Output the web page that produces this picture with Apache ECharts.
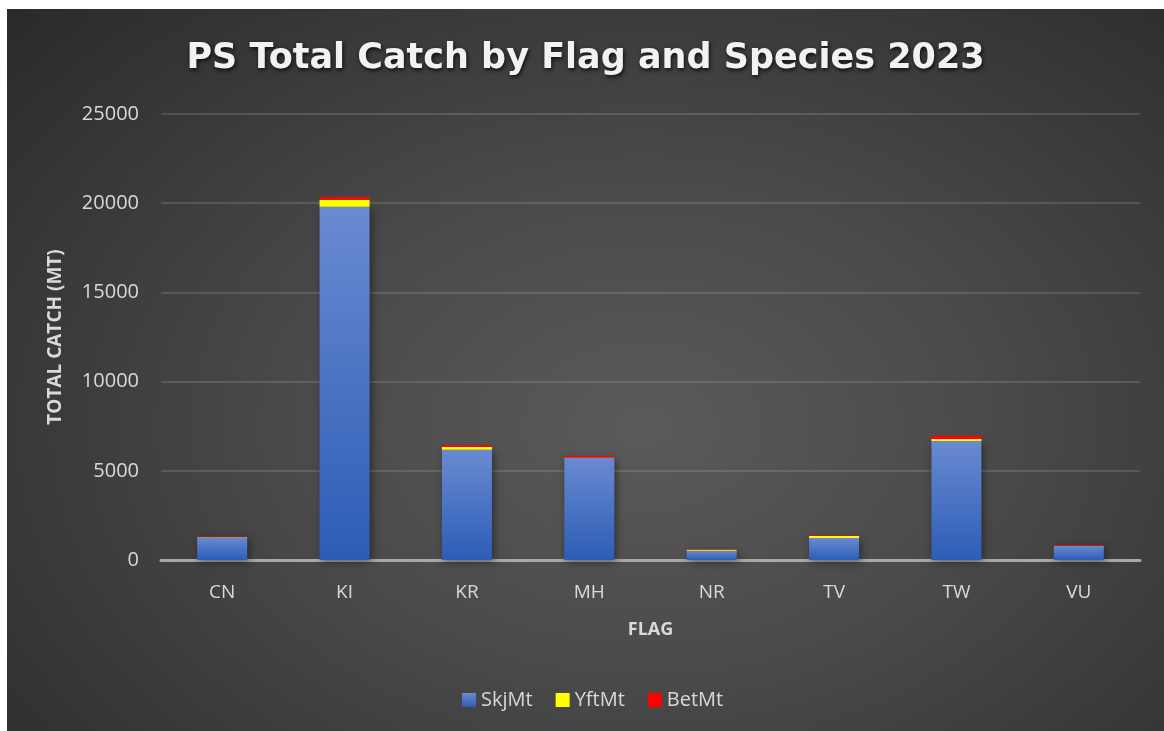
<!DOCTYPE html>
<html><head><meta charset="utf-8">
<script src="https://cdn.jsdelivr.net/npm/echarts@6/dist/echarts.min.js"></script>
<style>
html,body{margin:0;padding:0;background:#fff;width:1164px;height:731px;overflow:hidden;}
#c{position:absolute;left:7px;top:9px;width:1157px;height:722px;
background:radial-gradient(ellipse 75% 85% at 55% 58%, #5a5a5a 0%, #4a4a4a 40%, #2a2a2a 100%);}
</style></head>
<body><div id="c"></div>
<script>
const categories = ['CN','KI','KR','MH','NR','TV','TW','VU'];
const skjMt = [1280, 19800, 6180, 5730, 520, 1230, 6670, 800];
const yftMt = [5, 400, 150, 20, 60, 110, 110, 5];
const betMt = [30, 150, 100, 80, 5, 30, 185, 30];
const yTicks = [0, 5000, 10000, 15000, 20000, 25000];

const chart = echarts.init(document.getElementById('c'), null, {renderer:'canvas'});
const font = "'Open Sans', sans-serif";
chart.setOption({
  backgroundColor: 'transparent',
  animation: false,
  title: {
    text: 'PS Total Catch by Flag and Species 2023',
    left: 'center', top: 27,
    textStyle: {fontFamily: "'DejaVu Sans', sans-serif", fontSize: 35, fontWeight: 'bold', color: '#f2f2f2',
      textShadowColor: 'rgba(0,0,0,0.8)', textShadowBlur: 4, textShadowOffsetX: 1, textShadowOffsetY: 2}
  },
  legend: {
    bottom: 16, left: 450, itemWidth: 14, itemHeight: 14, itemGap: 23,
    icon: 'rect',
    textStyle: {fontFamily: font, fontSize: 20, color: '#d9d9d9'},
    data: ['SkjMt','YftMt','BetMt']
  },
  grid: {left: 154, right: 24, top: 105, bottom: 171},
  xAxis: {
    type: 'category', data: categories,
    name: 'FLAG', nameLocation: 'middle', nameGap: 61,
    nameTextStyle: {fontFamily: font, fontSize: 18, fontWeight: 'bold', color: '#d9d9d9'},
    axisLine: {lineStyle: {color: '#a8a8a8', width: 3}},
    axisTick: {show: false},
    axisLabel: {fontFamily: font, fontSize: 19, color: '#d9d9d9', margin: 23}
  },
  yAxis: {
    type: 'value', min: yTicks[0], max: yTicks[yTicks.length-1], interval: 5000,
    name: 'TOTAL CATCH (MT)', nameLocation: 'middle', nameGap: 96,
    nameTextStyle: {fontFamily: font, fontSize: 19, fontWeight: 'bold', color: '#d9d9d9'},
    axisLine: {show: false}, axisTick: {show: false},
    axisLabel: {fontFamily: font, fontSize: 20, color: '#d9d9d9', margin: 22,
      formatter: v => String(v)},
    splitLine: {lineStyle: {color: 'rgba(255,255,255,0.13)', width: 2}}
  },
  series: [
    {name: 'SkjMt', type: 'bar', stack: 'a', data: skjMt, barWidth: 50,
     itemStyle: {color: new echarts.graphic.LinearGradient(0,0,0,1,[{offset:0,color:'#6a8ad1'},{offset:1,color:'#2c5db6'}]),
       shadowColor: 'rgba(0,0,0,0.45)', shadowBlur: 8, shadowOffsetX: 2, shadowOffsetY: 2}},
    {name: 'YftMt', type: 'bar', stack: 'a', data: yftMt, barWidth: 50,
     itemStyle: {color: '#ffff00'}},
    {name: 'BetMt', type: 'bar', stack: 'a', data: betMt, barWidth: 50,
     itemStyle: {color: '#ff0000'}}
  ]
});
</script></body></html>
